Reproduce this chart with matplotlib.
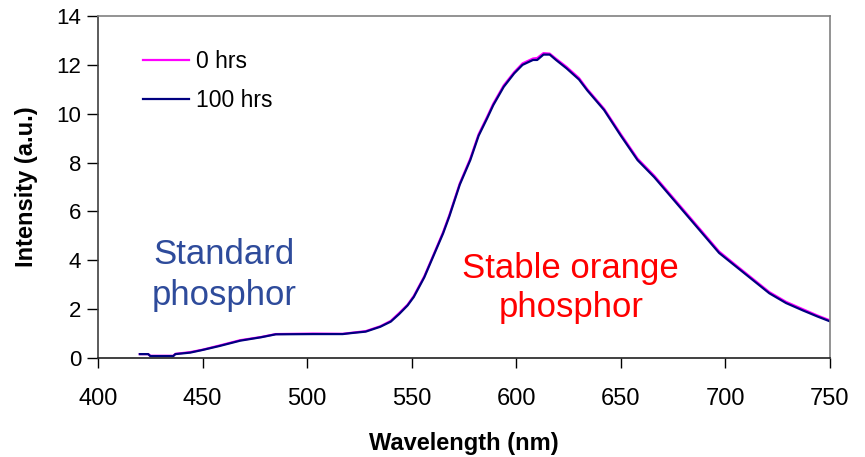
import matplotlib
matplotlib.use('Agg')
from matplotlib import pyplot as plt
from matplotlib import font_manager

# values
wavelength = [420, 424, 425, 436, 437, 444, 450, 458, 468, 478, 485, 503, 517,
              521, 528, 535, 540, 544, 548, 551, 556, 560, 565, 568, 573, 578,
              582, 586, 589, 594, 599, 603, 608, 610, 613, 616, 619, 624, 630,
              634, 642, 650, 658, 666, 674, 682, 689, 697, 705, 713, 721, 729,
              737, 744, 750]
hrs_100 = [0.16, 0.16, 0.08, 0.08, 0.16, 0.22, 0.33, 0.49, 0.71, 0.85, 0.97,
           0.98, 0.98, 1.02, 1.08, 1.28, 1.49, 1.80, 2.15, 2.50, 3.30, 4.10,
           5.10, 5.80, 7.10, 8.10, 9.10, 9.80, 10.35, 11.10, 11.65, 12.00,
           12.20, 12.20, 12.42, 12.42, 12.20, 11.86, 11.40, 10.95, 10.15, 9.10,
           8.10, 7.40, 6.60, 5.80, 5.10, 4.30, 3.75, 3.20, 2.65, 2.25, 1.95,
           1.70, 1.50]
hrs_0 = [0.16, 0.16, 0.09, 0.09, 0.17, 0.24, 0.34, 0.51, 0.73, 0.86, 0.98,
         1.00, 0.99, 1.03, 1.10, 1.30, 1.52, 1.84, 2.18, 2.54, 3.34, 4.14,
         5.15, 5.85, 7.15, 8.16, 9.16, 9.86, 10.41, 11.16, 11.70, 12.06,
         12.26, 12.28, 12.48, 12.46, 12.25, 11.92, 11.46, 11.00, 10.20, 9.16,
         8.16, 7.46, 6.66, 5.86, 5.16, 4.36, 3.80, 3.25, 2.70, 2.30, 2.00,
         1.74, 1.54]
series_labels = ['0 hrs', '100 hrs']
x_ticks = [400, 450, 500, 550, 600, 650, 700, 750]
y_ticks = [0, 2, 4, 6, 8, 10, 12, 14]

installed = {f.name for f in font_manager.fontManager.ttflist}
narrow = 'Liberation Sans Narrow' if 'Liberation Sans Narrow' in installed else 'Liberation Sans'
plt.rcParams['font.family'] = ['Liberation Sans', 'DejaVu Sans']

fig = plt.figure(figsize=(8.65, 4.57), dpi=100)
ax = fig.add_axes([0.1133, 0.2166, 0.8462, 0.7484])

ax.plot(wavelength, hrs_0, color='#FF00FF', linewidth=1.6, label=series_labels[0])
ax.plot(wavelength, hrs_100, color='#000080', linewidth=1.6, label=series_labels[1])

ax.set_xlim(400, 750)
ax.set_ylim(0, 14)
ax.set_xticks(x_ticks)
ax.set_yticks(y_ticks)
ax.set_xticklabels([str(t) for t in x_ticks], fontfamily=narrow, fontsize=17)
ax.tick_params(axis='y', labelsize=16, direction='out', length=8, width=1, pad=4)
ax.tick_params(axis='x', direction='out', length=7.5, width=1, pad=14)

for side in ['top', 'right']:
    ax.spines[side].set_color('#808080')
    ax.spines[side].set_linewidth(1.2)
ax.spines['left'].set_color('#404040')
ax.spines['bottom'].set_color('#202020')
ax.spines['left'].set_linewidth(1.2)
ax.spines['bottom'].set_linewidth(1.2)

ax.set_xlabel('Wavelength (nm)', fontsize=17, fontweight='bold')
ax.set_ylabel('Intensity (a.u.)', fontsize=17, fontweight='bold')
ax.xaxis.set_label_coords(0.5, -0.216)
ax.yaxis.set_label_coords(-0.082, 0.5)

ax.legend(loc='upper left', bbox_to_anchor=(0.0615, 0.9), frameon=False,
          fontsize=16.5, handlelength=2.0, handletextpad=0.3, labelspacing=0.7,
          borderpad=0, borderaxespad=0)

ax.text(0.172, 0.243, 'Standard\nphosphor', transform=ax.transAxes,
        fontsize=25, color='#2E4B9B', ha='center', va='center', linespacing=1.3)
ax.text(0.646, 0.205, 'Stable orange\nphosphor', transform=ax.transAxes,
        fontsize=25, color='#FF0000', ha='center', va='center', linespacing=1.25)

plt.savefig('out.png', dpi=100)
